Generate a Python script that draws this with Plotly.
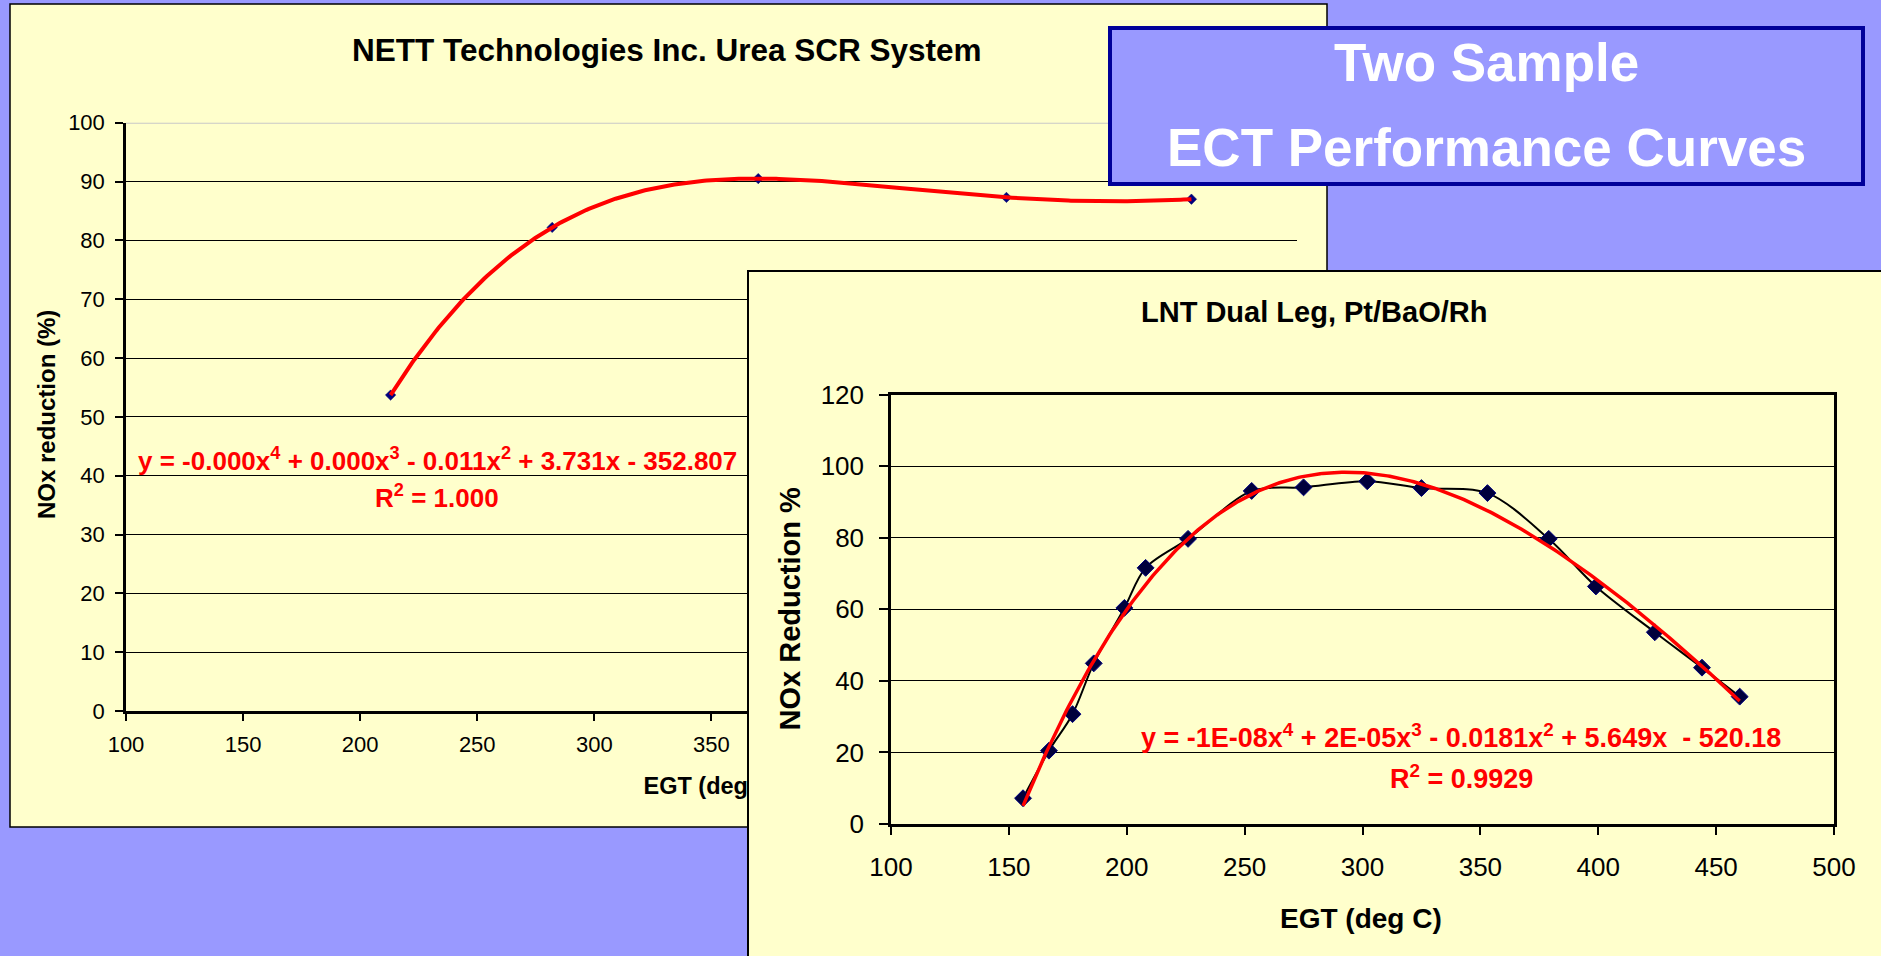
import numpy as np
import plotly.graph_objects as go

W, H = 1881, 956

# ---------------- data ----------------
left_egt = [213, 282, 370, 476, 555]
left_nox = [53.7, 82.2, 90.5, 87.3, 87.0]

right_egt = [156, 167, 177, 186, 199, 208, 226, 253, 275, 302, 325, 353, 379, 399, 424, 444, 460]
right_nox = [7.2, 20.5, 30.7, 44.9, 60.4, 71.6, 79.7, 93.1, 94.1, 95.8, 93.9, 92.5, 79.7, 66.4, 53.6, 43.7, 35.6]

left_xticks = [100, 150, 200, 250, 300, 350, 400, 450, 500, 550, 600]
left_yticks = [0, 10, 20, 30, 40, 50, 60, 70, 80, 90, 100]
right_xticks = [100, 150, 200, 250, 300, 350, 400, 450, 500]
right_yticks = [0, 20, 40, 60, 80, 100, 120]

left_title = "NETT Technologies Inc. Urea SCR System"
left_ytitle = "NOx reduction (%)"
left_xtitle = "EGT (deg C)"
left_eq = "y = -0.000x<sup>4</sup> + 0.000x<sup>3</sup> - 0.011x<sup>2</sup> + 3.731x - 352.807"
left_r2 = "R<sup>2</sup> = 1.000"

right_title = "LNT Dual Leg, Pt/BaO/Rh"
right_ytitle = "NOx Reduction %"
right_xtitle = "EGT (deg C)"
right_eq = "y = -1E-08x<sup>4</sup> + 2E-05x<sup>3</sup> - 0.0181x<sup>2</sup> + 5.649x  - 520.18"
right_r2 = "R<sup>2</sup> = 0.9929"

box_lines = ["Two Sample", "ECT Performance Curves"]

# ---------------- helpers ----------------
def px(x):
    return x / W


def py(y):
    return 1 - y / H


FONT = "Liberation Sans, Arial, Helvetica, sans-serif"
YELLOW = "#FFFFCC"
BLUEBG = "#9999FF"

# polynomial (order 4) trendlines fitted to the series
lp = np.polynomial.Polynomial.fit(left_egt, left_nox, 4)
lx = np.linspace(min(left_egt), max(left_egt), 300)
ly = lp(lx)
rp = np.polynomial.Polynomial.fit(right_egt, right_nox, 4)
rx = np.linspace(min(right_egt), max(right_egt), 300)
ry = rp(rx)

fig = go.Figure()

# left chart
fig.add_trace(go.Scatter(x=left_egt, y=left_nox, mode="markers", xaxis="x", yaxis="y",
                         marker=dict(symbol="diamond", size=8, color="#000080",
                                     line=dict(width=0.5, color="#000066")),
                         showlegend=False, hoverinfo="x+y"))
fig.add_trace(go.Scatter(x=lx, y=ly, mode="lines", xaxis="x", yaxis="y",
                         line=dict(color="#FF0000", width=4), showlegend=False, hoverinfo="skip"))
# overlay axis carrying the left x title (so the right panel can cover it)
fig.add_trace(go.Scatter(x=[None], y=[None], xaxis="x4", yaxis="y", showlegend=False, hoverinfo="skip"))
# panel cover subplot
fig.add_trace(go.Scatter(x=[None], y=[None], xaxis="x2", yaxis="y2", showlegend=False, hoverinfo="skip"))
# right chart
fig.add_trace(go.Scatter(x=right_egt, y=right_nox, mode="lines+markers", xaxis="x3", yaxis="y3",
                         line=dict(color="black", width=2, shape="spline", smoothing=0.9),
                         marker=dict(symbol="diamond", size=13, color="#00003C",
                                     line=dict(width=1, color="#000080")),
                         showlegend=False))
fig.add_trace(go.Scatter(x=rx, y=ry, mode="lines", xaxis="x3", yaxis="y3",
                         line=dict(color="#FF0000", width=3.5), showlegend=False, hoverinfo="skip"))

plain = dict(showgrid=False, zeroline=False, showticklabels=False, ticks="")

fig.update_layout(
    width=W, height=H,
    margin=dict(l=0, r=0, t=0, b=0, pad=0, autoexpand=False),
    paper_bgcolor=BLUEBG, plot_bgcolor=YELLOW,
    showlegend=False,
    font=dict(family=FONT, color="black"),
    xaxis=dict(domain=[px(126), px(1296.8)], range=[100, 600], anchor="y",
               tickvals=left_xticks, showgrid=False, zeroline=False,
               showline=True, linecolor="black", linewidth=2.5,
               ticks="outside", ticklen=7, tickwidth=2, tickcolor="black",
               tickfont=dict(size=22, color="black"), ticklabelstandoff=5, automargin=False),
    yaxis=dict(domain=[py(711), py(122.7)], range=[0, 100], anchor="x",
               tickvals=left_yticks, showgrid=True, gridcolor="black", gridwidth=1,
               zeroline=False, showline=True, linecolor="black", linewidth=2.5,
               ticks="outside", ticklen=8, tickwidth=2, tickcolor="black",
               tickfont=dict(size=22, color="black"), ticklabelstandoff=6, automargin=False),
    xaxis4=dict(overlaying="x", anchor="y", side="bottom", range=[100, 600],
                tickvals=[350], ticktext=["<b>" + left_xtitle + "</b>"],
                ticks="", showgrid=False, zeroline=False, showline=False,
                tickfont=dict(size=23.5, color="black"), ticklabelstandoff=58, automargin=False),
    xaxis2=dict(domain=[px(749), 1.0], range=[0, 1], anchor="y2", side="top",
                showline=True, linecolor="black", linewidth=1.5, automargin=False, **plain),
    yaxis2=dict(domain=[0.0, py(272)], range=[0, 1], anchor="x2", side="left",
                showline=True, linecolor="black", linewidth=1.5, automargin=False, **plain),
    xaxis3=dict(domain=[px(891), px(1834)], range=[100, 500], anchor="y3",
                tickvals=right_xticks, showgrid=False, zeroline=False,
                showline=True, mirror=True, linecolor="black", linewidth=2.5,
                ticks="outside", ticklen=8, tickwidth=2, tickcolor="black",
                tickfont=dict(size=26, color="black"), ticklabelstandoff=10, automargin=False),
    yaxis3=dict(domain=[py(824), py(394.7)], range=[0, 120], anchor="x3",
                tickvals=right_yticks, showgrid=True, gridcolor="black", gridwidth=1,
                zeroline=False, showline=True, mirror=True, linecolor="black", linewidth=2.5,
                ticks="outside", ticklen=9, tickwidth=2, tickcolor="black",
                tickfont=dict(size=26, color="black"), ticklabelstandoff=10, automargin=False),
    shapes=[
        dict(type="rect", xref="paper", yref="paper", x0=px(10), x1=px(1327),
             y0=py(827), y1=py(4), fillcolor=YELLOW, line=dict(color="black", width=1.5),
             layer="below"),
        # top (100 %) gridline of the left chart, drawn light grey as in the original
        dict(type="line", xref="x", yref="y", x0=left_xticks[0], x1=left_xticks[-1],
             y0=left_yticks[-1], y1=left_yticks[-1], line=dict(color="#C8C8C8", width=2),
             layer="below"),
        dict(type="rect", xref="paper", yref="paper", x0=px(1110), x1=px(1863),
             y0=py(184), y1=py(28), fillcolor=BLUEBG, line=dict(color="#000099", width=4),
             layer="above"),
    ],
)


def ann(text, x, y, size, color="black", angle=0):
    return dict(text=text, x=px(x), y=py(y), xref="paper", yref="paper",
                xanchor="center", yanchor="middle", showarrow=False, textangle=angle,
                font=dict(family=FONT, size=size, color=color))


fig.update_layout(annotations=[
    ann("<b>" + left_title + "</b>", 667, 49.5, 31.5),
    ann("<b>" + left_ytitle + "</b>", 46, 415, 24),
    ann("<b>" + left_eq + "</b>", 437, 459, 26, "#FF0000"),
    ann("<b>" + left_r2 + "</b>", 437, 496, 26, "#FF0000"),
    ann("<b>" + right_title + "</b>", 1314, 312, 29),
    ann("<b>" + right_ytitle + "</b>", 789, 608.5, 29, angle=-90),
    ann("<b>" + right_xtitle + "</b>", 1361, 918, 28),
    ann("<b>" + right_eq + "</b>", 1461, 736, 27, "#FF0000"),
    ann("<b>" + right_r2 + "</b>", 1461, 777, 27, "#FF0000"),
    ann("<b>" + box_lines[0] + "</b>", 1486, 62.5, 53, "white"),
    ann("<b>" + box_lines[1] + "</b>", 1486, 147.5, 53, "white"),
])
fig.layout.annotations[1].textangle = -90

fig.write_html("out.html", config={"displayModeBar": False},
               post_script="document.body.style.margin='0';document.body.style.overflow='hidden';")
